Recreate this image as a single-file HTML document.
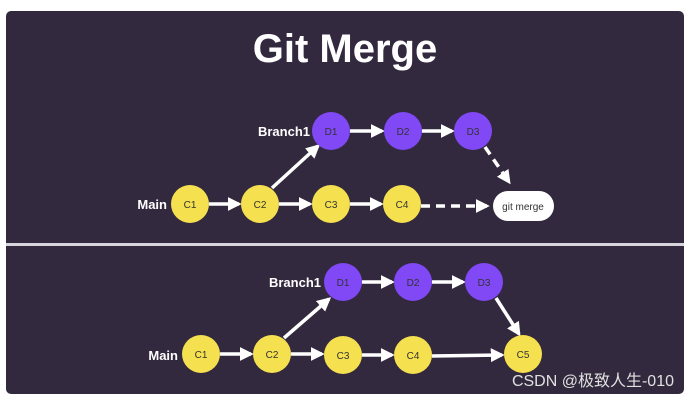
<!DOCTYPE html>
<html><head><meta charset="utf-8"><style>
html,body{margin:0;padding:0;background:#fff;width:690px;height:401px;overflow:hidden}
svg{display:block}
text{font-family:"Liberation Sans",sans-serif}
</style></head><body>
<svg width="690" height="401" viewBox="0 0 690 401">
<defs>
<marker id="a" viewBox="0 0 10 10" refX="8" refY="5" markerWidth="4" markerHeight="4" orient="auto"><path d="M0,0 L10,5 L0,10 z" fill="#fff"/></marker>
</defs>
<rect x="6" y="11" width="678" height="383" rx="5" fill="#33293f"/>
<rect x="6" y="243" width="678" height="3" fill="#d8d4dc"/>
<text x="345" y="62" text-anchor="middle" font-size="40" font-weight="bold" fill="#fff">Git Merge</text>
<g stroke="#fff" stroke-width="3.5" fill="none" marker-end="url(#a)">
<line x1="209" y1="204" x2="239" y2="204"/>
<line x1="279" y1="204" x2="310" y2="204"/>
<line x1="350" y1="204" x2="381" y2="204"/>
<line x1="272" y1="188" x2="318" y2="146"/>
<line x1="350" y1="131" x2="382" y2="131"/>
<line x1="422" y1="131" x2="452" y2="131"/>
<line x1="421" y1="206" x2="487" y2="206" stroke-dasharray="9,6"/>
<line x1="485" y1="147" x2="509" y2="182" stroke-dasharray="9,6"/>
<line x1="220" y1="354" x2="251" y2="354"/>
<line x1="291" y1="354" x2="322" y2="354"/>
<line x1="362" y1="355" x2="392" y2="355"/>
<line x1="284" y1="338" x2="329" y2="299"/>
<line x1="362" y1="282" x2="392" y2="282"/>
<line x1="432" y1="282" x2="463" y2="282"/>
<line x1="432" y1="356" x2="502" y2="355"/>
<line x1="496" y1="298" x2="519" y2="334"/>
</g>
<g font-size="10" text-anchor="middle" fill="#333">
<circle cx="190" cy="204" r="19" fill="#f5e04f"/><text x="190" y="208">C1</text>
<circle cx="260" cy="204" r="19" fill="#f5e04f"/><text x="260" y="208">C2</text>
<circle cx="331" cy="204" r="19" fill="#f5e04f"/><text x="331" y="208">C3</text>
<circle cx="402" cy="204" r="19" fill="#f5e04f"/><text x="402" y="208">C4</text>
<circle cx="331" cy="131" r="19" fill="#8148f5"/><text x="331" y="135">D1</text>
<circle cx="403" cy="131" r="19" fill="#8148f5"/><text x="403" y="135">D2</text>
<circle cx="473" cy="131" r="19" fill="#8148f5"/><text x="473" y="135">D3</text>
<rect x="493" y="191" width="61" height="30" rx="15" fill="#fff"/><text x="523" y="210">git merge</text>
<circle cx="201" cy="354" r="19" fill="#f5e04f"/><text x="201" y="358">C1</text>
<circle cx="272" cy="354" r="19" fill="#f5e04f"/><text x="272" y="358">C2</text>
<circle cx="343" cy="355" r="19" fill="#f5e04f"/><text x="343" y="359">C3</text>
<circle cx="413" cy="355" r="19" fill="#f5e04f"/><text x="413" y="359">C4</text>
<circle cx="523" cy="354" r="19" fill="#f5e04f"/><text x="523" y="358">C5</text>
<circle cx="343" cy="282" r="19" fill="#8148f5"/><text x="343" y="286">D1</text>
<circle cx="413" cy="282" r="19" fill="#8148f5"/><text x="413" y="286">D2</text>
<circle cx="484" cy="282" r="19" fill="#8148f5"/><text x="484" y="286">D3</text>
</g>
<g font-size="13" font-weight="bold" fill="#fff" text-anchor="end">
<text x="167" y="209">Main</text>
<text x="310" y="136">Branch1</text>
<text x="178" y="360">Main</text>
<text x="321" y="287">Branch1</text>
</g>
<text x="674" y="386" text-anchor="end" font-size="16" fill="#e0e0e0" style="font-family:'Liberation Sans','Noto Sans CJK SC',sans-serif">CSDN @极致人生-010</text>
</svg>
</body></html>
